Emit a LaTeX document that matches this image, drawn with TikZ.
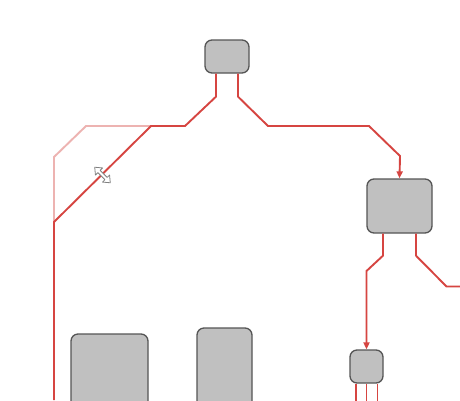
\documentclass[tikz,border=0pt]{standalone}
\usepackage{amsmath}
\usepackage{tikz}
\usetikzlibrary{arrows.meta}
\definecolor{wirered}{HTML}{D64541}
\definecolor{wirepale}{HTML}{EDB3B1}
\definecolor{boxgray}{HTML}{C0C0C0}
\definecolor{boxline}{HTML}{555555}

\begin{document}
\begin{tikzpicture}[x=1pt,y=-1pt]
            \tikzstyle{every node}+=[inner sep=0pt]
            \tikzstyle{unit}=[draw=boxline, fill=boxgray, line width=1.3pt, rounded corners=7pt]
            \tikzstyle{wire}=[wirered, line width=1.9pt]
            \tikzstyle{oldwire}=[wirepale, line width=1.9pt]
            \useasboundingbox (0,0) rectangle (460,400);
            \clip (0,0) rectangle (460,400);
            \fill [white] (0,0) rectangle (460,400);
            % boxes
            \node [unit, minimum width=44pt, minimum height=33pt] (top) at (227,56.5) {};
            \node [unit, minimum width=65pt, minimum height=54pt] (right) at (399.5,206) {};
            \node [unit, minimum width=33pt, minimum height=33pt] (small) at (366.5,366.5) {};
            \node [unit, minimum width=77pt, minimum height=80pt] (boxa) at (109.5,374) {};
            \node [unit, minimum width=55pt, minimum height=84pt] (boxb) at (224.5,370) {};
            \coordinate (leftend) at (54,400);
            \coordinate (rightend) at (460,286.5);
            % faded old route
            \draw [oldwire] (151,126) -- (86,126) -- (54,157) -- (54,222);
            % wires
            \draw [wire] ([xshift=-11pt]top.south) -- ++(0,23) -- (185,126) -- (151,126) -- (54,222) -- (leftend);
            \draw [wire, -{Triangle[length=7pt,width=6pt]}] ([xshift=11pt]top.south) -- ++(0,23) -- (268,126) -- (369,126) -- (400,156) -- (right.north);
            \draw [wire, -{Triangle[length=7pt,width=6pt]}] ([xshift=-16.5pt]right.south) -- ++(0,22) -- (366.5,271) -- (small.north);
            \draw [wire] ([xshift=16.5pt]right.south) -- ++(0,22) -- (446.5,286.5) -- (rightend);
            \foreach \dx in {-10.5,0,11}
                \draw [wire] ([xshift=\dx pt]small.south) -- ++(0,20);
            % pointer
            \begin{scope}[shift={(102.5,175)}, rotate=-45]
                \draw [fill=white, draw=gray, line width=0.8pt, line join=round]
                    (11,0) -- (5,5) -- (5,1.6) -- (-5,1.6) -- (-5,5) -- (-11,0)
                    -- (-5,-5) -- (-5,-1.6) -- (5,-1.6) -- (5,-5) -- cycle;
            \end{scope}
        \end{tikzpicture}
\end{document}
